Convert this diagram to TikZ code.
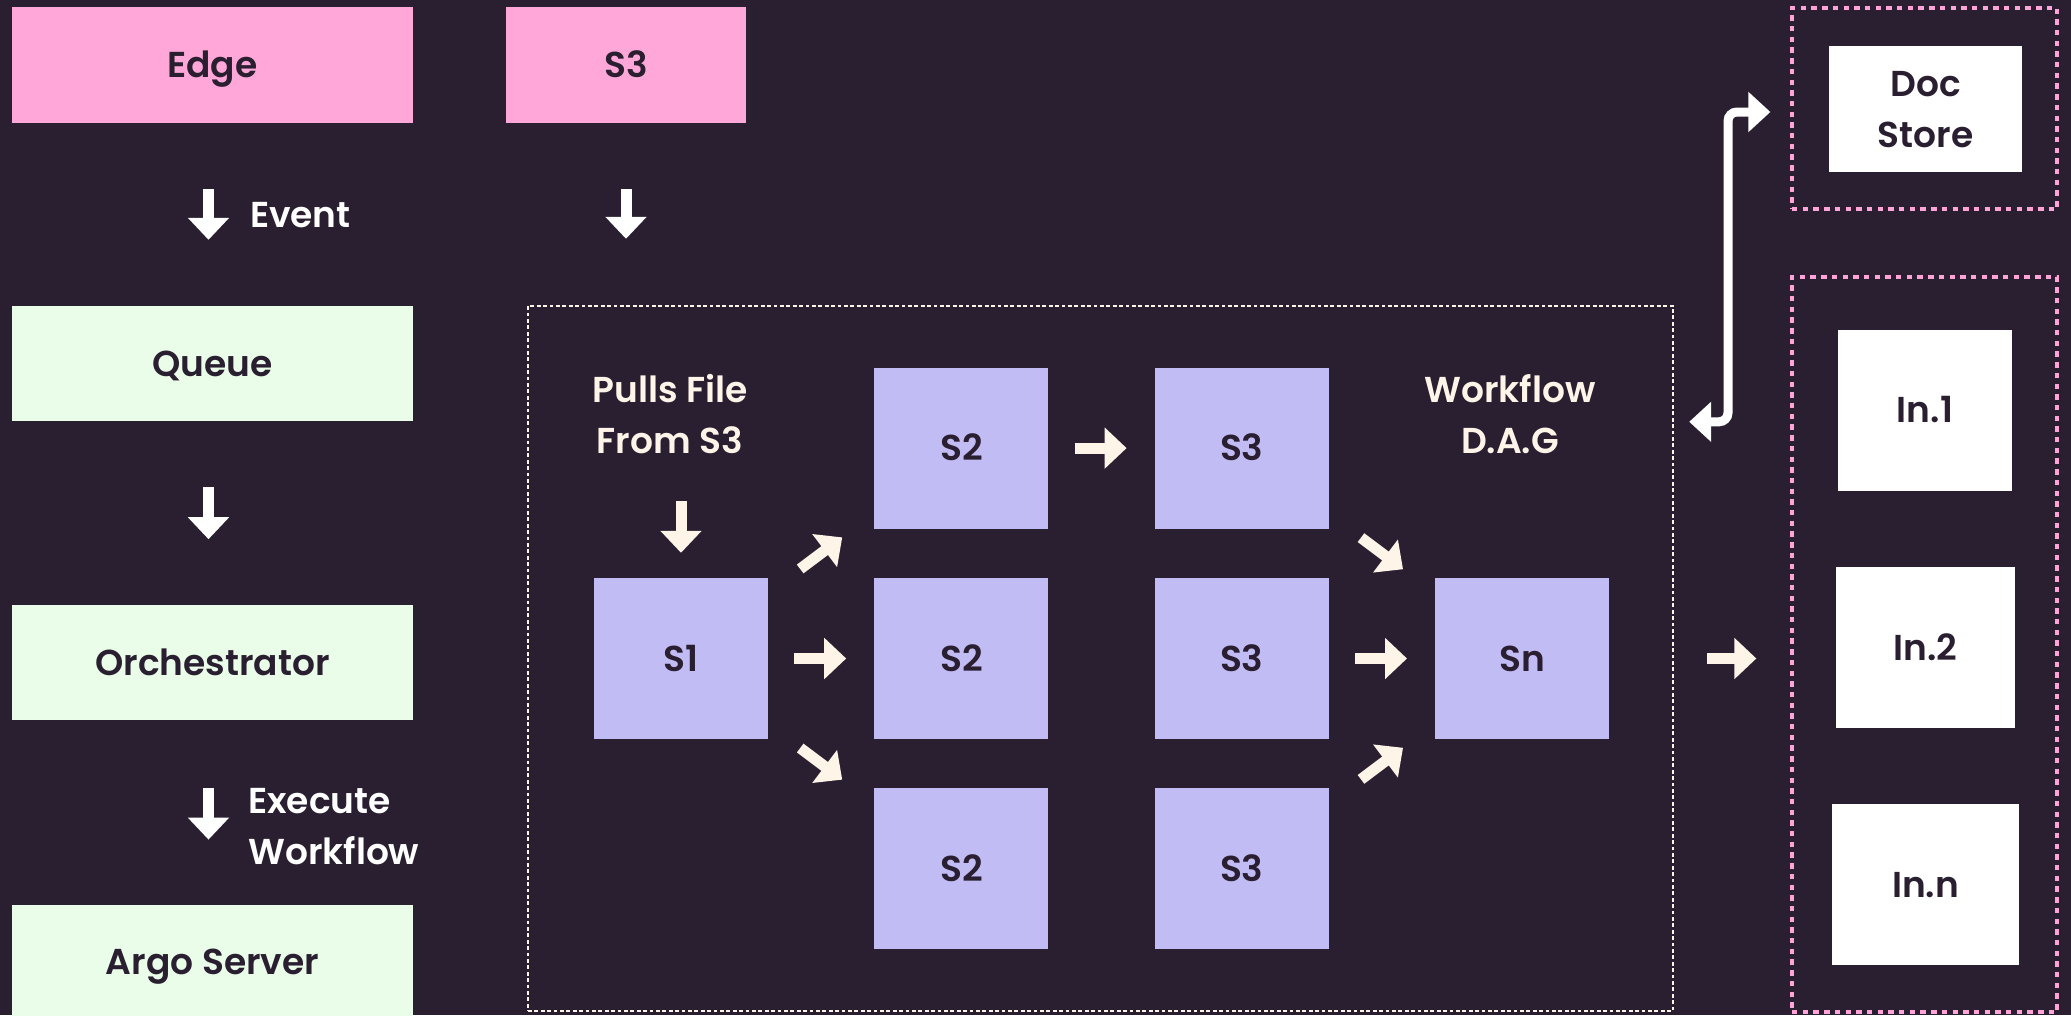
\documentclass[tikz,border=0pt]{standalone}
\usepackage{fontspec}
\setmainfont{Poppins}[UprightFont=* SemiBold]
\usetikzlibrary{arrows.meta,positioning,calc}
\definecolor{bgDark}{HTML}{291F30}
\definecolor{edgePink}{HTML}{FFA7D9}
\definecolor{mintGreen}{HTML}{E9FDE8}
\definecolor{stepLilac}{HTML}{C2BCF5}
\definecolor{creamWhite}{HTML}{FFF4E8}
\definecolor{dashPink}{HTML}{FFA3D8}

\begin{document}
\begin{tikzpicture}[x=1pt, y=-1pt,
  every node/.style={font=\fontsize{36}{51}\selectfont, text=bgDark, align=center, text height=25.2pt, text depth=0pt},
  twoline/.style={text height=76.2pt},
  srcbox/.style={rectangle, fill=edgePink, minimum height=116pt, inner sep=0pt},
  svcbox/.style={rectangle, fill=mintGreen, minimum width=401pt, minimum height=115pt, inner sep=0pt},
  stepbox/.style={rectangle, fill=stepLilac, minimum width=174pt, minimum height=161pt, inner sep=0pt},
  outbox/.style={rectangle, fill=white, minimum height=161pt, inner sep=0pt},
  dagframe/.style={rectangle, draw=creamWhite, line width=2.4pt, dash pattern=on 3.8pt off 2.6pt},
  groupbox/.style={rectangle, draw=dashPink, line width=3.3pt, dash pattern=on 5.4pt off 5.3pt, minimum width=265pt},
  lbl/.style={text=white, inner sep=0pt, align=left},
  note/.style={text=creamWhite, inner sep=0pt, twoline},
  flow/.style={draw=white, line width=11pt, -{Triangle[length=22pt, width=40pt]}},
  dagflow/.style={draw=creamWhite, line width=11pt, -{Triangle[length=22pt, width=40pt]}}
]
\fill[bgDark] (0,0) rectangle (2071,1015);
\useasboundingbox (0,0) rectangle (2071,1015);

\node[srcbox, minimum width=401pt] (edge) at (212.5,65) {Edge};
\node[srcbox, minimum width=240pt] (bucket) at (626,65) {S3};
\node[svcbox] (queue) at (212.5,363.5) {Queue};
\node[svcbox, below=184pt of queue] (orch) {Orchestrator};
\node[svcbox, below=184pt of orch] (argo) {Argo Server};

\node[dagframe, minimum width=1145pt, minimum height=705pt] (dag) at (1100.5,658.5) {};
\node[stepbox] (s1) at (681,658.5) {S1};
\node[stepbox, right=106pt of s1] (s2b) {S2};
\node[stepbox, above=49pt of s2b] (s2a) {S2};
\node[stepbox, below=49pt of s2b] (s2c) {S2};
\node[stepbox, right=106pt of s2a] (s3a) {S3};
\node[stepbox, right=106pt of s2b] (s3b) {S3};
\node[stepbox, right=106pt of s2c] (s3c) {S3};
\node[stepbox, right=106pt of s3b] (sn) {Sn};
\node[note, anchor=north] (pulls) at (670,377) {Pulls File\\From S3};
\node[note, anchor=north] (dagname) at (1510,377) {Workflow\\D.A.G};

\node[groupbox, minimum height=201pt] (docgrp) at (1924.5,108.5) {};
\node[outbox, twoline, minimum width=193pt, minimum height=126pt] (docstore) at (1925.5,109) {Doc\\Store};
\node[groupbox, minimum height=735pt] (ingrp) at (1924.5,644.5) {};
\node[outbox, minimum width=174pt] (in1) at (1925,410) {In.1};
\node[outbox, minimum width=179pt] (in2) at (1925.5,647.5) {In.2};
\node[outbox, minimum width=187pt] (inn) at (1925.5,884.5) {In.n};

\draw[flow, shorten <=66pt, shorten >=66pt] ([xshift=-4pt]edge.south) -- node[lbl, right=36pt] {Event} ([xshift=-4pt]queue.north);
\draw[flow, shorten <=66pt, shorten >=66pt] ([xshift=-4pt]queue.south) -- ([xshift=-4pt]orch.north);
\draw[flow, shorten <=67pt, shorten >=65pt] ([xshift=-4pt]orch.south) -- ([xshift=-4pt]argo.north);
\node[lbl, twoline, anchor=north west] (exec) at (248,788) {Execute\\Workflow};
\draw[flow, shorten <=66pt, shorten >=66pt] (bucket.south) -- (bucket.south |- dag.north);

\draw[dagflow, shorten <=47pt, shorten >=25pt] (s1.north |- pulls.south) -- (s1.north);
\foreach \a/\b in {s1/s2b, s2a/s3a, s3b/sn}
  \draw[dagflow, shorten <=26pt, shorten >=28pt] (\a) -- (\b);
\foreach \a/\b in {s1/s2a, s1/s2c, s3a/sn, s3c/sn}
  \draw[dagflow, shorten <=40pt, shorten >=40pt] (\a) -- (\b);
\draw[dagflow, shorten <=33pt, shorten >=34pt] (dag.east) -- (dag.east -| ingrp.west);

\draw[flow, line width=9pt, {Triangle[length=22pt, width=39pt]}-{Triangle[length=22pt, width=39pt]}, rounded corners=9pt]
  ($(dag.north east)+(15,117)$) -| (1728,112) -- ($(docgrp.west)+(-20,3.5)$);
\end{tikzpicture}
\end{document}
